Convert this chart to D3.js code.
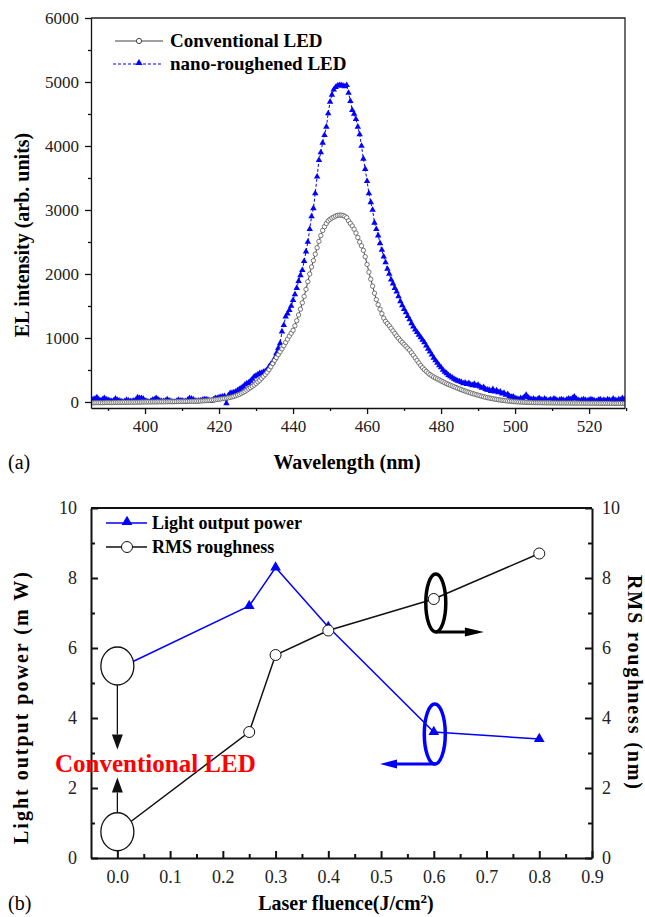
<!DOCTYPE html>
<html>
<head>
<meta charset="utf-8">
<script src="https://cdn.jsdelivr.net/npm/d3@7"></script>
<style>
  body { margin: 0; background: #fff; }
  svg, svg text { font-family: "Liberation Serif", "Times New Roman", serif; }
  .axis path, .axis line { stroke: #111; }
  .axis text { fill: #222; }
</style>
</head>
<body>
<div id="chart"></div>
<script>
// ---- (a) EL spectra, one value every 0.5 nm from 385 to 530 nm
var convValues = [
  -15,-15,-12,-12,-10,-10,-10,-12,-10,-8,   // 385
  -8,-8,-10,-8,-6,-6,-5,-6,-5,-5,           // 390
  -5,-4,-4,-3,-3,-4,-2,-2,-1,0,             // 395
  0,0,1,0,2,2,1,3,2,3,                      // 400
  3,4,4,5,5,5,6,6,7,7,                      // 405
  8,8,9,10,10,11,12,13,14,15,               // 410
  16,18,20,22,24,27,30,33,36,40,            // 415
  44,48,52,56,61,66,72,80,88,98,            // 420
  110,120,135,150,165,185,205,225,245,265,  // 425
  290,315,340,370,400,430,465,505,550,600,  // 430
  650,695,740,785,830,880,930,980,1030,1075,        // 435
  1120,1190,1270,1360,1450,1550,1650,1760,1880,2000, // 440
  2110,2210,2310,2410,2510,2600,2680,2740,2790,2830, // 445
  2855,2875,2890,2905,2915,2920,2920,2915,2900,2880, // 450
  2830,2790,2750,2700,2640,2570,2500,2440,2370,2270, // 455
  2150,2030,1920,1810,1700,1600,1520,1450,1380,1310, // 460
  1260,1225,1190,1150,1110,1070,1030,995,960,930,    // 465
  900,870,840,810,770,730,690,650,610,570,  // 470
  535,505,478,452,428,408,390,375,360,345,  // 475
  330,315,300,287,274,262,250,238,226,214,  // 480
  203,192,181,170,160,150,141,132,123,114,  // 485
  106,98,90,82,75,68,62,56,50,45,           // 490
  40,35,31,27,23,19,16,13,10,7,             // 495
  5,3,1,0,-2,-3,-5,-6,-7,-8,                // 500
  -10,-10,-11,-11,-12,-12,-12,-13,-13,-13,  // 505
  -14,-14,-14,-15,-15,-15,-15,-16,-16,-16,  // 510
  -16,-17,-17,-17,-17,-18,-18,-18,-18,-18,  // 515
  -19,-19,-19,-19,-19,-20,-20,-20,-20,-20,  // 520
  -20,-20,-21,-21,-21,-21,-21,-22,-22,-22,  // 525
  -22                                       // 530
];

var nanoValues = [
  60,50,40,50,70,40,20,40,60,40,            // 385
  30,20,10,20,50,30,20,10,0,10,             // 390
  30,20,10,10,20,30,70,60,60,50,            // 395
  20,10,0,10,30,40,60,40,20,10,             // 400
  10,20,40,20,10,0,0,10,30,20,              // 405
  20,10,10,30,60,50,40,20,10,20,            // 410
  20,30,40,40,30,20,20,40,60,60,            // 415
  70,80,83,90,-20,100,136,140,150,161,      // 420
  180,200,220,240,270,290,300,330,360,395,  // 425
  410,430,448,455,470,480,500,550,590,620,  // 430
  680,760,840,917,1100,1200,1333,1380,1437,1500,     // 435
  1590,1680,1780,1890,1980,2060,2200,2350,2500,2700, // 440
  2900,3026,3260,3520,3780,3900,4050,4170,4300,4510, // 445
  4690,4800,4880,4920,4940,4950,4950,4940,4930,4950, // 450
  4830,4700,4560,4500,4420,4300,4180,4000,3800,3640, // 455
  3450,3260,3120,3000,2800,2700,2600,2480,2375,2270, // 460
  2180,2080,2000,1910,1850,1780,1724,1650,1570,1510, // 465
  1450,1400,1340,1290,1230,1177,1130,1090,1050,1010, // 470
  970,930,880,830,786,740,690,650,610,570,  // 475
  540,500,470,448,420,400,380,360,345,330,  // 480
  320,310,290,300,280,292,270,260,280,250,  // 485
  266,240,220,230,200,190,188,170,200,160,  // 490
  180,150,161,130,140,110,120,90,80,83,     // 495
  60,50,40,60,50,80,109,70,50,40,           // 500
  50,30,40,58,40,30,50,30,20,40,            // 505
  30,50,40,20,30,40,30,20,40,50,            // 510
  40,60,83,50,30,20,30,40,30,20,            // 515
  30,40,30,20,10,30,40,20,30,20,            // 520
  40,30,20,50,30,20,40,30,60,40,            // 525
  50                                        // 530
];
var wavelengths = convValues.map(function(d, i) { return 385 + i * 0.5; });

var wlTicks = [400, 420, 440, 460, 480, 500, 520];
var wlMinor = [390, 410, 430, 450, 470, 490, 510, 530];
var elTicks = [0, 1000, 2000, 3000, 4000, 5000, 6000];
var elMinor = [500, 1500, 2500, 3500, 4500, 5500];

// ---- (b) light output power and RMS roughness vs laser fluence
var fluence = [0.0, 0.25, 0.3, 0.4, 0.6, 0.8];
var lightPower = [5.4, 7.2, 8.3, 6.6, 3.6, 3.4];
var rmsRough = [0.75, 3.6, 5.8, 6.5, 7.4, 8.7];
var fluTicks = [0, 0.1, 0.2, 0.3, 0.4, 0.5, 0.6, 0.7, 0.8, 0.9];
var fluMinor = [0.05, 0.15, 0.25, 0.35, 0.45, 0.55, 0.65, 0.75, 0.85];
var bTicks = [0, 2, 4, 6, 8, 10];
var bMinor = [1, 3, 5, 7, 9];

var serif = '"Liberation Serif", "Times New Roman", serif';

var svg = d3.select("#chart").append("svg")
  .attr("width", 645)
  .attr("height", 917);

var blue = "#0000ff";

// ================= (a) =================
var a = { left: 91, right: 625, top: 18, bottom: 408 };
var xA = d3.scaleLinear().domain([385.4, 529.7]).range([a.left, a.right]);
var yA = d3.scaleLinear().domain([-94, 6000]).range([a.bottom, a.top]);

svg.append("defs").append("clipPath").attr("id", "clipA")
  .append("rect")
  .attr("x", a.left).attr("y", a.top)
  .attr("width", a.right - a.left).attr("height", a.bottom - a.top);

var plotA = svg.append("g").attr("clip-path", "url(#clipA)");

var convData = wavelengths.map(function(w, i) { return { x: w, y: convValues[i] }; });
var nanoData = wavelengths.map(function(w, i) { return { x: w, y: nanoValues[i] }; });

var lineA = d3.line().x(d => xA(d.x)).y(d => yA(d.y));

plotA.append("path")
  .datum(nanoData)
  .attr("d", lineA)
  .attr("fill", "none")
  .attr("stroke", blue)
  .attr("stroke-width", 1)
  .attr("stroke-dasharray", "3,2");

plotA.append("path")
  .datum(convData)
  .attr("d", lineA)
  .attr("fill", "none")
  .attr("stroke", "#444")
  .attr("stroke-width", 1);

plotA.selectAll(".tri")
  .data(nanoData)
  .enter()
  .append("path")
  .attr("class", "tri")
  .attr("transform", d => `translate(${xA(d.x)}, ${yA(d.y)})`)
  .attr("d", d3.symbol(d3.symbolTriangle, 18))
  .attr("fill", blue);

plotA.selectAll(".circ")
  .data(convData)
  .enter()
  .append("circle")
  .attr("class", "circ")
  .attr("cx", d => xA(d.x))
  .attr("cy", d => yA(d.y))
  .attr("r", 2.2)
  .attr("fill", "#fff")
  .attr("stroke", "#555")
  .attr("stroke-width", 0.8);

// frame
svg.append("path")
  .attr("d", `M${a.left},${a.top}H${a.right}V${a.bottom}`)
  .attr("fill", "none").attr("stroke", "#222").attr("stroke-width", 1.3);

function styleAxis(g, size, w) {
  g.attr("font-family", null).attr("font-size", null);
  g.selectAll("text").attr("font-family", serif).attr("font-size", size);
  g.selectAll("path, line").attr("stroke-width", w);
}

// axes (ticks outward)
svg.append("g").attr("class", "axis")
  .attr("transform", `translate(0, ${a.bottom})`)
  .call(d3.axisBottom(xA).tickValues(wlMinor).tickSize(3).tickFormat(""))
  .call(g => styleAxis(g, 17, 1.3))
  .call(g => g.select(".domain").remove());
svg.append("g").attr("class", "axis")
  .attr("transform", `translate(0, ${a.bottom})`)
  .call(d3.axisBottom(xA).tickValues(wlTicks).tickSize(6).tickPadding(6).tickSizeOuter(0).tickFormat(d3.format("d")))
  .call(g => styleAxis(g, 17, 1.3));

svg.append("g").attr("class", "axis")
  .attr("transform", `translate(${a.left}, 0)`)
  .call(d3.axisLeft(yA).tickValues(elMinor).tickSize(3).tickFormat(""))
  .call(g => styleAxis(g, 17, 1.3))
  .call(g => g.select(".domain").remove());
svg.append("g").attr("class", "axis")
  .attr("transform", `translate(${a.left}, 0)`)
  .call(d3.axisLeft(yA).tickValues(elTicks).tickSize(6).tickPadding(6).tickSizeOuter(0).tickFormat(d3.format("d")))
  .call(g => styleAxis(g, 17, 1.3));

// labels
svg.append("text")
  .attr("x", 347).attr("y", 469)
  .attr("text-anchor", "middle")
  .attr("font-weight", "bold").attr("font-size", 20)
  .text("Wavelength (nm)");

svg.append("text")
  .attr("transform", "translate(29, 235) rotate(-90)")
  .attr("text-anchor", "middle")
  .attr("font-weight", "bold").attr("font-size", 20)
  .text("EL intensity (arb. units)");

svg.append("text")
  .attr("x", 8).attr("y", 469)
  .attr("font-size", 20)
  .text("(a)");

// legend (a)
var legA = svg.append("g");
legA.append("line").attr("x1", 115).attr("x2", 163).attr("y1", 41).attr("y2", 41)
  .attr("stroke", "#444").attr("stroke-width", 1.2);
legA.append("circle").attr("cx", 139).attr("cy", 41).attr("r", 2.6)
  .attr("fill", "#fff").attr("stroke", "#444").attr("stroke-width", 1);
legA.append("text").attr("x", 170).attr("y", 47)
  .attr("font-weight", "bold").attr("font-size", 19)
  .text("Conventional LED");
legA.append("line").attr("x1", 113).attr("x2", 163).attr("y1", 64).attr("y2", 64)
  .attr("stroke", blue).attr("stroke-width", 1).attr("stroke-dasharray", "3,2");
legA.append("path").attr("transform", "translate(139, 63)")
  .attr("d", d3.symbol(d3.symbolTriangle, 22)).attr("fill", blue);
legA.append("text").attr("x", 170).attr("y", 70)
  .attr("font-weight", "bold").attr("font-size", 19)
  .text("nano-roughened LED");

// ================= (b) =================
var b = { left: 91, right: 592, top: 508, bottom: 858 };
var xB = d3.scaleLinear().domain([-0.05, 0.9]).range([b.left, b.right]);
var yL = d3.scaleLinear().domain([0, 10]).range([b.bottom, b.top]);
var yR = d3.scaleLinear().domain([0, 10]).range([b.bottom, b.top]);

var powerData = fluence.map((f, i) => ({ x: f, y: lightPower[i] }));
var rmsData = fluence.map((f, i) => ({ x: f, y: rmsRough[i] }));

svg.append("path")
  .datum(powerData)
  .attr("d", d3.line().x(d => xB(d.x)).y(d => yL(d.y)))
  .attr("fill", "none").attr("stroke", blue).attr("stroke-width", 1.5);

svg.append("path")
  .datum(rmsData)
  .attr("d", d3.line().x(d => xB(d.x)).y(d => yR(d.y)))
  .attr("fill", "none").attr("stroke", "#111").attr("stroke-width", 1.5);

svg.selectAll(".ptri")
  .data(powerData)
  .enter()
  .append("path")
  .attr("transform", d => `translate(${xB(d.x)}, ${yL(d.y)})`)
  .attr("d", d3.symbol(d3.symbolTriangle, 50))
  .attr("fill", blue);

svg.selectAll(".pcirc")
  .data(rmsData)
  .enter()
  .append("circle")
  .attr("cx", d => xB(d.x))
  .attr("cy", d => yR(d.y))
  .attr("r", 5.5)
  .attr("fill", "#fff")
  .attr("stroke", "#111")
  .attr("stroke-width", 1);

// frame top
svg.append("line")
  .attr("x1", b.left).attr("x2", b.right).attr("y1", b.top).attr("y2", b.top)
  .attr("stroke", "#111").attr("stroke-width", 2);

// axes (ticks inward)
svg.append("g").attr("class", "axis")
  .attr("transform", `translate(0, ${b.bottom})`)
  .call(d3.axisBottom(xB).tickValues(fluMinor).tickSize(-4).tickFormat(""))
  .call(g => styleAxis(g, 17, 2))
  .call(g => g.select(".domain").remove());
svg.append("g").attr("class", "axis")
  .attr("transform", `translate(0, ${b.bottom})`)
  .call(d3.axisBottom(xB).tickValues(fluTicks).tickSize(-7).tickSizeOuter(0)
    .tickPadding(12).tickFormat(d3.format(".1f")))
  .call(g => styleAxis(g, 18, 2));

svg.append("g").attr("class", "axis")
  .attr("transform", `translate(${b.left}, 0)`)
  .call(d3.axisLeft(yL).tickValues(bMinor).tickSize(-4).tickFormat(""))
  .call(g => styleAxis(g, 18, 2))
  .call(g => g.select(".domain").remove());
svg.append("g").attr("class", "axis")
  .attr("transform", `translate(${b.left}, 0)`)
  .call(d3.axisLeft(yL).tickValues(bTicks).tickSize(-7).tickSizeOuter(0).tickPadding(14))
  .call(g => styleAxis(g, 18, 2));

svg.append("g").attr("class", "axis")
  .attr("transform", `translate(${b.right}, 0)`)
  .call(d3.axisRight(yR).tickValues(bMinor).tickSize(-4).tickFormat(""))
  .call(g => styleAxis(g, 18, 2))
  .call(g => g.select(".domain").remove());
svg.append("g").attr("class", "axis")
  .attr("transform", `translate(${b.right}, 0)`)
  .call(d3.axisRight(yR).tickValues(bTicks).tickSize(-7).tickSizeOuter(0).tickPadding(10))
  .call(g => styleAxis(g, 18, 2));

// annotations: white ellipses around the 0.0 points
var ann = svg.append("g");
ann.append("ellipse")
  .attr("cx", xB(0)).attr("cy", yL(lightPower[0]) - 3)
  .attr("rx", 16.5).attr("ry", 19)
  .attr("fill", "#fff").attr("stroke", "#111").attr("stroke-width", 1.3);
ann.append("ellipse")
  .attr("cx", xB(0)).attr("cy", yR(rmsRough[0]))
  .attr("rx", 16.5).attr("ry", 19)
  .attr("fill", "#fff").attr("stroke", "#111").attr("stroke-width", 1.3);

function arrow(g, x1, y1, x2, y2, color, w, headLen, headW) {
  var ang = Math.atan2(y2 - y1, x2 - x1);
  var bx = x2 - headLen * Math.cos(ang), by = y2 - headLen * Math.sin(ang);
  g.append("line").attr("x1", x1).attr("y1", y1).attr("x2", bx).attr("y2", by)
    .attr("stroke", color).attr("stroke-width", w);
  var px = -Math.sin(ang) * headW / 2, py = Math.cos(ang) * headW / 2;
  g.append("path")
    .attr("d", `M${x2},${y2}L${bx + px},${by + py}L${bx - px},${by - py}Z`)
    .attr("fill", color);
}

arrow(ann, xB(0), yL(lightPower[0]) + 16, xB(0), yL(3.1), "#111", 1.3, 15, 11);
arrow(ann, xB(0), yR(rmsRough[0]) - 19, xB(0), yL(2.3), "#111", 1.3, 15, 11);

// thick ellipses at 0.6 with axis arrows
ann.append("ellipse")
  .attr("cx", xB(0.6) + 2).attr("cy", yR(rmsRough[4]) + 4)
  .attr("rx", 10).attr("ry", 29)
  .attr("fill", "none").attr("stroke", "#000").attr("stroke-width", 3.5);
arrow(ann, xB(0.6) + 2, yR(rmsRough[4]) + 33, xB(0.695), yR(rmsRough[4]) + 33, "#000", 3, 19, 9);

ann.append("ellipse")
  .attr("cx", xB(0.6) + 1).attr("cy", yL(lightPower[4]) + 2)
  .attr("rx", 10.5).attr("ry", 30)
  .attr("fill", "none").attr("stroke", blue).attr("stroke-width", 3.5);
arrow(ann, xB(0.6) + 2, yL(lightPower[4]) + 32, xB(0.498), yL(lightPower[4]) + 32, blue, 3, 17, 9);

ann.append("text")
  .attr("x", 55).attr("y", 772)
  .attr("fill", "#ff0000")
  .attr("font-weight", "bold").attr("font-size", 25)
  .text("Conventional LED");

// legend (b)
var legB = svg.append("g");
legB.append("line").attr("x1", 106).attr("x2", 147).attr("y1", 523).attr("y2", 523)
  .attr("stroke", blue).attr("stroke-width", 1.5);
legB.append("path").attr("transform", "translate(127, 522)")
  .attr("d", d3.symbol(d3.symbolTriangle, 50)).attr("fill", blue);
legB.append("text").attr("x", 152).attr("y", 529)
  .attr("font-weight", "bold").attr("font-size", 18)
  .text("Light output power");
legB.append("line").attr("x1", 106).attr("x2", 147).attr("y1", 547).attr("y2", 547)
  .attr("stroke", "#111").attr("stroke-width", 1.5);
legB.append("circle").attr("cx", 127).attr("cy", 547).attr("r", 5.5)
  .attr("fill", "#fff").attr("stroke", "#111").attr("stroke-width", 1);
legB.append("text").attr("x", 152).attr("y", 553)
  .attr("font-weight", "bold").attr("font-size", 18)
  .text("RMS roughness");

// axis titles (b)
var xt = svg.append("text")
  .attr("x", 346).attr("y", 910)
  .attr("text-anchor", "middle")
  .attr("font-weight", "bold").attr("font-size", 20);
xt.append("tspan").text("Laser fluence(J/cm");
xt.append("tspan").attr("baseline-shift", "super").attr("font-size", 13).text("2");
xt.append("tspan").text(")");

svg.append("text")
  .attr("transform", "translate(28, 708) rotate(-90)")
  .attr("text-anchor", "middle")
  .attr("font-weight", "bold").attr("font-size", 20)
  .attr("textLength", 272).attr("lengthAdjust", "spacing")
  .text("Light output power (m W)");

svg.append("text")
  .attr("transform", "translate(628, 682) rotate(90)")
  .attr("text-anchor", "middle")
  .attr("font-weight", "bold").attr("font-size", 20)
  .attr("textLength", 214).attr("lengthAdjust", "spacing")
  .text("RMS roughness  (nm)");

svg.append("text")
  .attr("x", 8).attr("y", 910)
  .attr("font-size", 20)
  .text("(b)");
</script>
</body>
</html>
